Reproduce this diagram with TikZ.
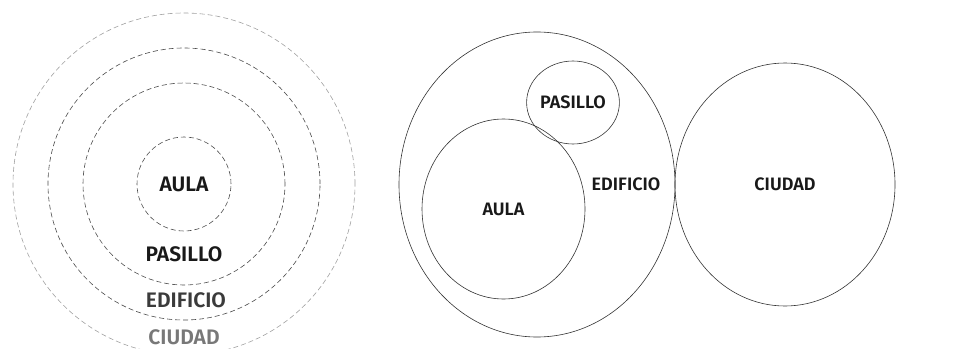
\documentclass[tikz,border=0pt]{standalone}
\usepackage{fontspec}
\setmainfont{Fira Sans}[BoldFont={Fira Sans SemiBold}]
\usetikzlibrary{shapes.geometric}
\definecolor{ringdark}{RGB}{75,75,75}
\definecolor{ringlight}{RGB}{160,160,160}
\definecolor{inkdark}{RGB}{25,25,25}
\definecolor{inkgray}{RGB}{120,120,120}

\begin{document}
\begin{tikzpicture}[x=1pt, y=-1pt,
    ring/.style={circle, draw=ringdark, dash pattern=on 5pt off 3pt, line width=0.6pt, inner sep=0pt},
    blob/.style={ellipse, draw=black!80, line width=0.6pt, inner sep=0pt},
    bigtext/.style={font=\fontsize{21}{21}\selectfont\bfseries, text=inkdark, inner sep=0pt},
    smalltext/.style={font=\fontsize{18}{18}\selectfont\bfseries, text=inkdark, inner sep=0pt}]
    \useasboundingbox (0,0) rectangle (957,348);

    % Concentric rings (left)
    \foreach \name/\r/\col in {aula/47/ringdark, pasillo/101/ringdark, edificio/136/ringdark, ciudad/171/ringlight} {
        \node[ring, draw=\col, minimum size=2*\r] (\name) at (184,184) {};
    }
    \node[bigtext] (aulaL) at (aula.center) {AULA};
    \node[bigtext] (pasilloL) at (184,254) {PASILLO};
    \node[bigtext, text=inkdark!85] (edificioL) at (186,300) {EDIFICIO};
    \node[bigtext, text=inkgray] (ciudadL) at (184,337) {CIUDAD};

    % Nested and touching blobs (right)
    \node[blob, minimum width=276, minimum height=305] (edif) at (537,184.5) {};
    \node[blob, smalltext, minimum width=76, minimum height=83] (pas) at (573,102.5) {PASILLO};
    \node[blob, smalltext, minimum width=163, minimum height=180] (aul) at (503.5,209) {AULA};
    \node[blob, smalltext, minimum width=220, minimum height=243] (ciu) at (785,184.5) {CIUDAD};
    \node[smalltext] (edifL) at (626,184) {EDIFICIO};
\end{tikzpicture}
\end{document}
